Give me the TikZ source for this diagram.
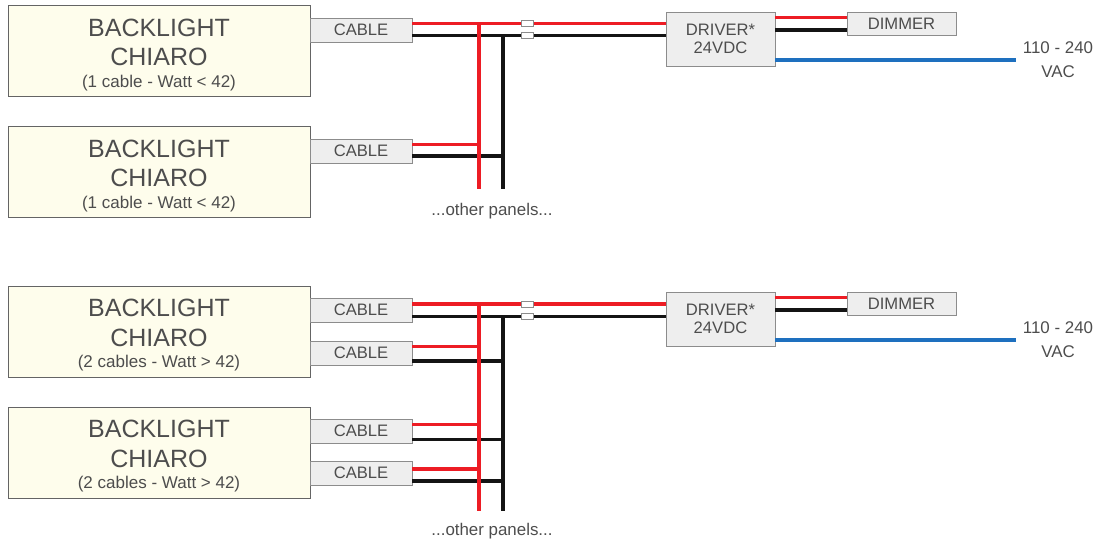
\documentclass[tikz,border=0pt]{standalone}
\usepackage{fontspec}
\setmainfont{Liberation Sans}
\definecolor{txt}{RGB}{77,77,77}
\definecolor{wred}{RGB}{237,28,36}
\definecolor{wblack}{RGB}{20,20,20}
\definecolor{wblue}{RGB}{30,112,191}
\definecolor{ledge}{RGB}{100,100,100}
\definecolor{gedge}{RGB}{140,140,140}
\definecolor{panelfill}{RGB}{254,253,236}
\definecolor{cablefill}{RGB}{238,238,238}
\tikzset{
  x=1pt,y=-1pt,
  panel/.style={draw=ledge,line width=1pt,outer sep=0pt,fill=panelfill,minimum width=302pt,minimum height=91pt,inner sep=0pt,text=txt,align=center,anchor=north west,font=\fontsize{25}{29.5}\selectfont},
  cable/.style={draw=gedge,line width=1pt,outer sep=0pt,fill=cablefill,minimum width=102pt,minimum height=24pt,inner sep=0pt,text=txt,anchor=north west,font=\fontsize{16.6}{18}\selectfont},
  driver/.style={cable,minimum width=109pt,minimum height=54pt,align=center,font=\fontsize{16.6}{18.5}\selectfont},
  dimmer/.style={cable,minimum width=109pt,minimum height=23pt},
  fuse/.style={draw=gedge,line width=0.8pt,fill=white,minimum width=12pt,minimum height=6pt,inner sep=0pt},
  label/.style={text=txt,align=center,inner sep=0pt,font=\fontsize{16.9}{24}\selectfont},
  redw/.style={draw=wred,line width=3.6pt},
  blackw/.style={draw=wblack,line width=3.2pt},
  bluew/.style={draw=wblue,line width=3.4pt},
  redv/.style={draw=wred,line width=4pt},
  blackv/.style={draw=wblack,line width=3.2pt},
}
\newcommand{\paneltext}[1]{\rule{0pt}{25pt}BACKLIGHT\\[0pt]CHIARO\\[-8pt]{\fontsize{17}{17}\selectfont #1}}
\begin{document}
\begin{tikzpicture}
\useasboundingbox (0,0) rectangle (1096,541);
% panels
\node[panel] (p1) at (8,5.5) {\paneltext{(1 cable - Watt < 42)}};
\node[panel] (p2) at (8,126.5) {\paneltext{(1 cable - Watt < 42)}};
\node[panel] (p3) at (8,286) {\paneltext{(2 cables - Watt > 42)}};
\node[panel] (p4) at (8,407) {\paneltext{(2 cables - Watt > 42)}};
% cables
\node[cable] (c1) at (310,18) {CABLE};
\node[cable] (c2) at (310,139) {CABLE};
\node[cable] (c3) at (310,298) {CABLE};
\node[cable] (c4) at (310,341) {CABLE};
\node[cable] (c5) at (310,419) {CABLE};
\node[cable] (c6) at (310,461) {CABLE};
% drivers, dimmers
\node[driver] (d1) at (666,12) {DRIVER*\\24VDC};
\node[driver] (d2) at (666,292) {DRIVER*\\24VDC};
\node[dimmer] (m1) at (847,12) {DIMMER};
\node[dimmer] (m2) at (847,292) {DIMMER};
% free ends
\coordinate (r1end) at (479,189);
\coordinate (k1end) at (503,189);
\coordinate (r2end) at (479,511);
\coordinate (k2end) at (503,511);
\coordinate (b1end) at (1016,60);
\coordinate (b2end) at (1016,340);
\coordinate (j1r) at (479,23.5);
\coordinate (j1k) at (503,35.5);
\coordinate (j2r) at (479,304);
\coordinate (j2k) at (503,316.5);
% upper wiring
\draw[redw] (c1.east |- 0,23.5) -- (j1r) -- (d1.west |- 0,23.5);
\draw[blackw] (c1.east |- 0,35.5) -- (j1k) -- (d1.west |- 0,35.5);
\draw[blackv] (j1k) -- (k1end);
\draw[redw] (c2.east |- 0,144.5) -- (481,144.5);
\draw[blackw] (c2.east |- 0,156) -- (505,156);
\draw[redv] (j1r) -- (r1end);
\draw[redw] (d1.east |- 0,17.5) -- (m1.west |- 0,17.5);
\draw[blackw] (d1.east |- 0,30) -- (m1.west |- 0,30);
\draw[bluew] (d1.east |- 0,60) -- (b1end);
% lower wiring
\draw[blackw] (c3.east |- 0,316.5) -- (j2k) -- (d2.west |- 0,316.5);
\draw[blackv] (j2k) -- (k2end);
\draw[blackw] (c4.east |- 0,361) -- (505,361);
\draw[blackw] (c5.east |- 0,439.5) -- (505,439.5);
\draw[blackw] (c6.east |- 0,481) -- (505,481);
\draw[redw] (c3.east |- 0,304) -- (j2r) -- (d2.west |- 0,304);
\draw[redw] (c4.east |- 0,346.5) -- (481,346.5);
\draw[redw] (c5.east |- 0,424.5) -- (481,424.5);
\draw[redw] (c6.east |- 0,469) -- (481,469);
\draw[redv] (j2r) -- (r2end);
\draw[redw] (d2.east |- 0,297.5) -- (m2.west |- 0,297.5);
\draw[blackw] (d2.east |- 0,310) -- (m2.west |- 0,310);
\draw[bluew] (d2.east |- 0,340) -- (b2end);
% fuses
\node[fuse] (f1) at (527,23.5) {};
\node[fuse] (f2) at (527,35.5) {};
\node[fuse] (f3) at (527,304) {};
\node[fuse] (f4) at (527,316) {};
% labels
\node[label] (v1) at (1058,60) {110 - 240\\VAC};
\node[label] (v2) at (1058,340) {110 - 240\\VAC};
\node[label] (o1) at (492,211) {...other panels...};
\node[label] (o2) at (492,531) {...other panels...};
\end{tikzpicture}
\end{document}
